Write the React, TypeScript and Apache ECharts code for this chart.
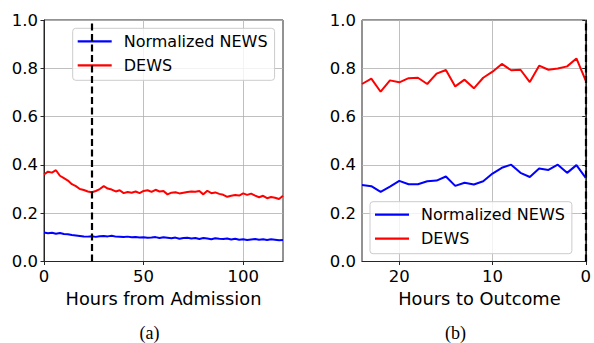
import React, { useEffect, useRef } from "react";
import * as echarts from "echarts";

// Panel (a): hours from admission
const hoursA = [
  0, 2, 4, 6, 8, 10, 12, 14, 16, 18, 20, 22, 24, 26, 28, 30, 32, 34, 36, 38,
  40, 42, 44, 46, 48, 50, 52, 54, 56, 58, 60, 62, 64, 66, 68, 70, 72, 74, 76, 78,
  80, 82, 84, 86, 88, 90, 92, 94, 96, 98, 100, 102, 104, 106, 108, 110, 112, 114, 116, 118, 120,
];
const newsA = [
  0.120, 0.117, 0.119, 0.115, 0.118, 0.114, 0.113, 0.110, 0.108, 0.106,
  0.104, 0.103, 0.105, 0.102, 0.105, 0.106, 0.104, 0.107, 0.103, 0.102,
  0.101, 0.103, 0.100, 0.101, 0.099, 0.100, 0.098, 0.099, 0.101, 0.097,
  0.100, 0.098, 0.096, 0.099, 0.094, 0.097, 0.098, 0.095, 0.097, 0.093,
  0.097, 0.095, 0.092, 0.096, 0.094, 0.093, 0.095, 0.091, 0.094, 0.090,
  0.092, 0.089, 0.091, 0.093, 0.090, 0.092, 0.089, 0.092, 0.090, 0.088, 0.089,
];
const dewsA = [
  0.360, 0.372, 0.368, 0.378, 0.355, 0.345, 0.335, 0.320, 0.312, 0.300,
  0.296, 0.290, 0.287, 0.292, 0.300, 0.312, 0.302, 0.298, 0.290, 0.295,
  0.283, 0.288, 0.285, 0.290, 0.283, 0.292, 0.295, 0.288, 0.297, 0.290,
  0.292, 0.278, 0.285, 0.287, 0.282, 0.285, 0.288, 0.290, 0.289, 0.292,
  0.278, 0.293, 0.283, 0.286, 0.280, 0.276, 0.268, 0.272, 0.275, 0.273,
  0.282, 0.276, 0.281, 0.273, 0.266, 0.272, 0.262, 0.267, 0.264, 0.259, 0.272,
];
const admissionMarker = 24;

// Panel (b): hours to outcome
const hoursB = [24, 23, 22, 21, 20, 19, 18, 17, 16, 15, 14, 13, 12, 11, 10, 9, 8, 7, 6, 5, 4, 3, 2, 1, 0];
const newsB = [
  0.317, 0.312, 0.288, 0.310, 0.334, 0.320, 0.320, 0.332, 0.335, 0.352,
  0.313, 0.326, 0.319, 0.332, 0.364, 0.388, 0.401, 0.367, 0.350, 0.385,
  0.379, 0.401, 0.367, 0.399, 0.346,
];
const dewsB = [
  0.735, 0.757, 0.703, 0.750, 0.742, 0.759, 0.761, 0.735, 0.778, 0.793,
  0.725, 0.753, 0.717, 0.761, 0.786, 0.818, 0.792, 0.794, 0.743, 0.811,
  0.794, 0.799, 0.808, 0.841, 0.749,
];
const outcomeMarker = 0;

const xTicksA = [0, 50, 100];
const xTicksB = [0, 10, 20];
const seriesNames = ["Normalized NEWS", "DEWS"];
const captions = ["(a)", "(b)"];

const FONT = "DejaVu Sans";
const BLUE = "#0000ff";
const RED = "#ff0000";
const SPINE = "#262626";

export default function App() {
  const ref = useRef<HTMLDivElement>(null);
  useEffect(() => {
    if (!ref.current) return;
    const chart = echarts.init(ref.current, undefined, { renderer: "svg" });

    const pair = (xs: number[], ys: number[]) => xs.map((x, i) => [x, ys[i]]);

    const yAxisBase = (gridIndex: number) => ({
      type: "value" as const,
      gridIndex,
      min: 0,
      max: 1,
      interval: 0.2,
      axisLine: { show: true, lineStyle: { color: SPINE, width: 1 } },
      axisTick: { show: true, inside: false, length: 3.5, lineStyle: { color: SPINE, width: 1 } },
      axisLabel: {
        fontSize: 16.5,
        fontFamily: FONT,
        color: "#000",
        margin: 6,
        formatter: (v: number) => v.toFixed(1),
      },
      splitLine: { show: true, lineStyle: { color: "#b0b0b0", width: 0.8 } },
    });

    const xAxisBase = (gridIndex: number, name: string, ticks: number[]) => ({
      type: "value" as const,
      gridIndex,
      name,
      nameLocation: "middle" as const,
      nameGap: 26,
      nameTextStyle: { fontSize: 17.8, fontFamily: FONT, color: "#000" },
      axisLine: { show: true, lineStyle: { color: SPINE, width: 1 } },
      axisTick: {
        show: true,
        inside: false,
        length: 3.5,
        lineStyle: { color: SPINE, width: 1 },
        customValues: ticks,
      },
      axisLabel: {
        fontSize: 16.5,
        fontFamily: FONT,
        color: "#000",
        margin: 6,
        customValues: ticks,
      },
      splitLine: { show: true, lineStyle: { color: "#b0b0b0", width: 0.8 } },
    });

    const legendBase = {
      orient: "vertical" as const,
      icon: "rect",
      itemWidth: 34,
      itemHeight: 2.2,
      itemGap: 8,
      padding: [5, 7, 7, 5],
      borderColor: "#cccccc",
      borderWidth: 1,
      borderRadius: 3,
      backgroundColor: "rgba(255,255,255,0.8)",
      textStyle: { fontSize: 16, fontFamily: FONT, color: "#000", padding: [0, 0, 0, 7] },
      data: seriesNames,
      selectedMode: false,
    };

    const vline = (x: number) => ({
      silent: true,
      symbol: ["none", "none"],
      label: { show: false },
      lineStyle: { color: "#000", type: [7, 3.5], width: 2.2 },
      data: [{ xAxis: x }],
    });

    const caption = (text: string, x: number) => ({
      type: "text",
      x,
      y: 332.5,
      style: {
        text,
        fontFamily: "Liberation Serif",
        fontSize: 18,
        fill: "#000",
        align: "center",
        verticalAlign: "middle",
      },
    });

    chart.setOption({
      animation: false,
      grid: [
        { left: 44, top: 20, width: 239, height: 241.5, show: true, borderColor: SPINE, borderWidth: 1, backgroundColor: "transparent" },
        { left: 362, top: 20, width: 228, height: 241.5, show: true, borderColor: SPINE, borderWidth: 1, backgroundColor: "transparent" },
      ],
      xAxis: [
        { ...xAxisBase(0, "Hours from Admission", xTicksA), min: 0, max: 120, interval: 50 },
        {
          ...xAxisBase(1, "Hours to Outcome", xTicksB),
          min: 0,
          max: 24,
          interval: 10,
          inverse: true,
          nameTextStyle: { fontSize: 17.8, fontFamily: FONT, color: "#000", padding: [0, 0, 0, 11] },
        },
      ],
      yAxis: [yAxisBase(0), yAxisBase(1)],
      legend: [
        { ...legendBase, left: 72.7, top: 28.3 },
        { ...legendBase, left: 370, top: 201.7 },
      ],
      series: [
        {
          name: seriesNames[0],
          type: "line",
          xAxisIndex: 0,
          yAxisIndex: 0,
          data: pair(hoursA, newsA),
          showSymbol: false,
          lineStyle: { color: BLUE, width: 2 },
          itemStyle: { color: BLUE },
        },
        {
          name: seriesNames[1],
          type: "line",
          xAxisIndex: 0,
          yAxisIndex: 0,
          data: pair(hoursA, dewsA),
          showSymbol: false,
          lineStyle: { color: RED, width: 2 },
          itemStyle: { color: RED },
          markLine: vline(admissionMarker),
        },
        {
          name: seriesNames[0],
          type: "line",
          xAxisIndex: 1,
          yAxisIndex: 1,
          data: pair(hoursB, newsB),
          showSymbol: false,
          lineStyle: { color: BLUE, width: 2 },
          itemStyle: { color: BLUE },
        },
        {
          name: seriesNames[1],
          type: "line",
          xAxisIndex: 1,
          yAxisIndex: 1,
          data: pair(hoursB, dewsB),
          showSymbol: false,
          lineStyle: { color: RED, width: 2 },
          itemStyle: { color: RED },
          markLine: vline(outcomeMarker),
        },
      ],
      graphic: [caption(captions[0], 149.5), caption(captions[1], 455.5)],
    });
    return () => chart.dispose();
  }, []);

  return (
    <div
      ref={ref}
      style={{ position: "absolute", left: 0, top: 0, width: 594, height: 343, background: "#fff" }}
    />
  );
}
